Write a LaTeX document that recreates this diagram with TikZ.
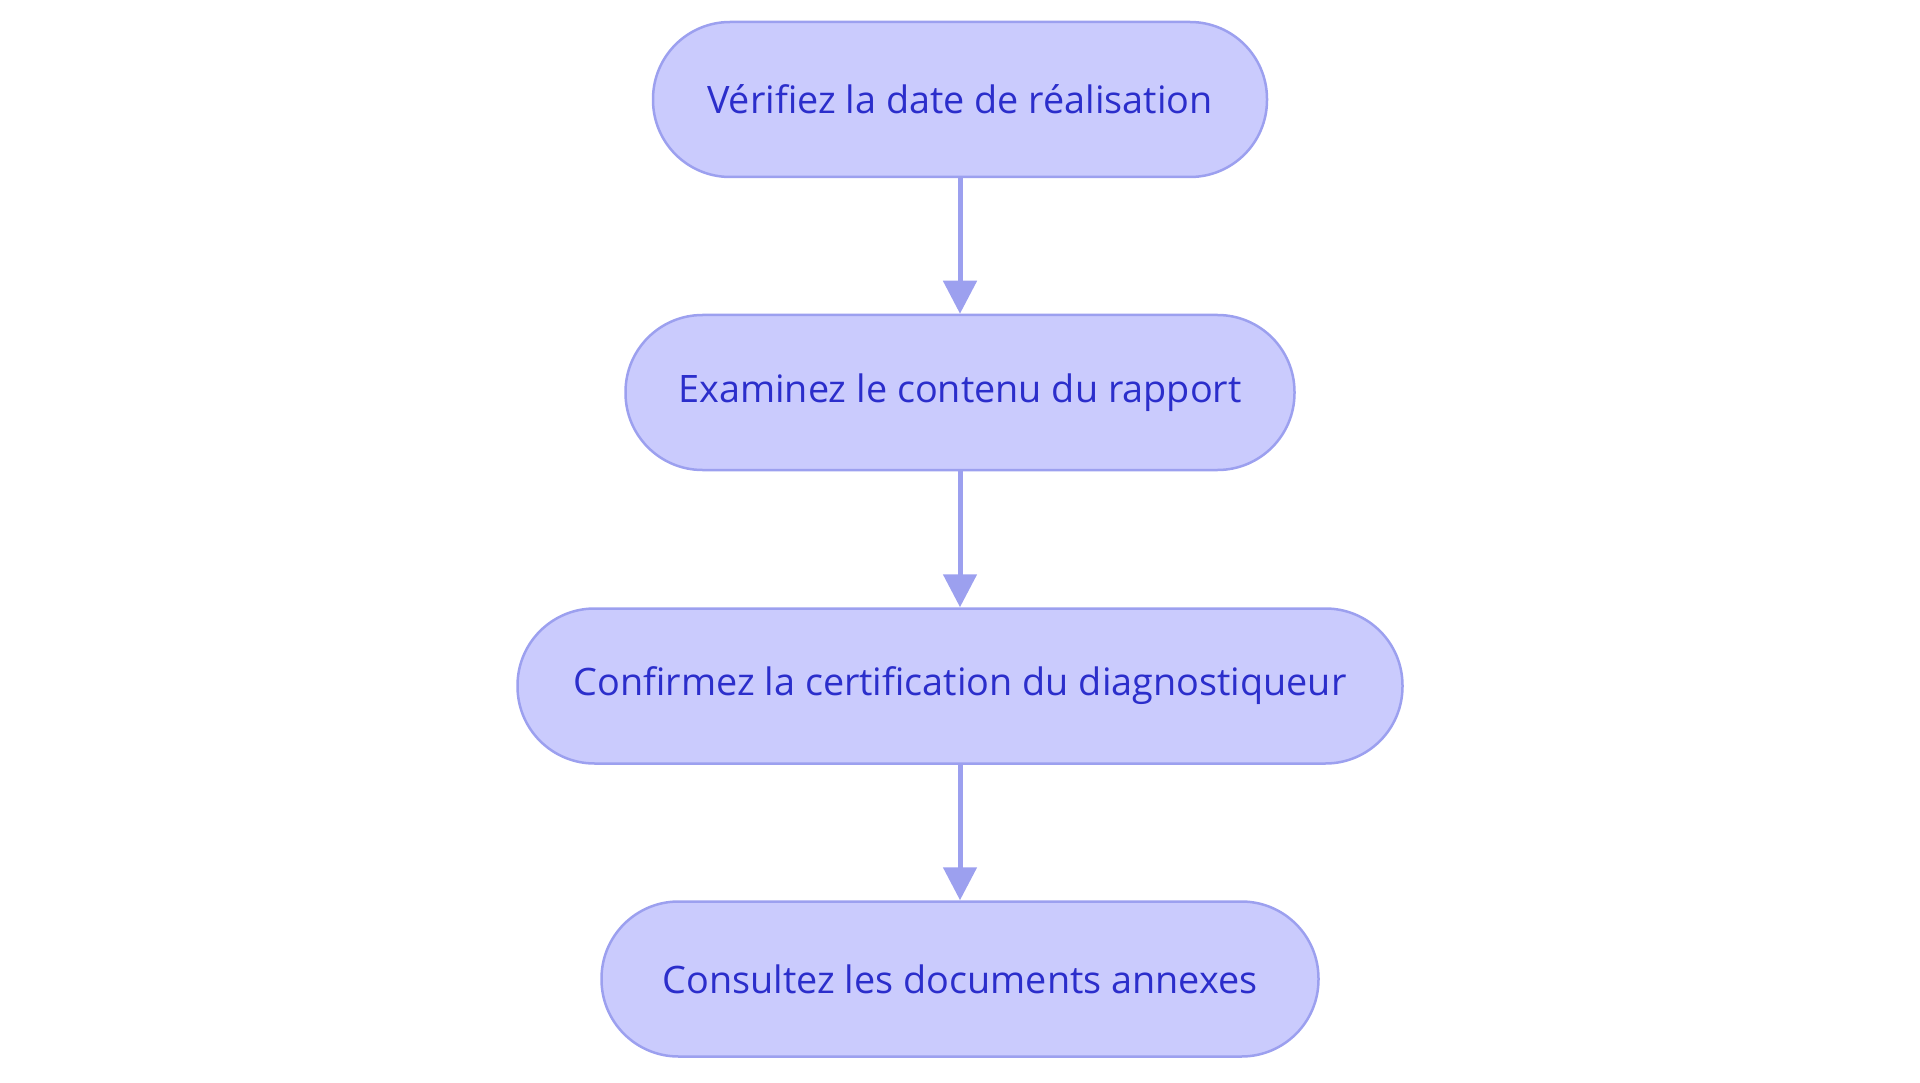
\documentclass[tikz,border=0pt]{standalone}
\usepackage{fontspec}
\setmainfont{Open Sans}
\usetikzlibrary{arrows.meta}
\definecolor{boxfill}{HTML}{CACBFD}
\definecolor{boxline}{HTML}{9CA0EF}
\definecolor{boxtext}{HTML}{2B2ECB}
\tikzset{
  stepbox/.style={draw=boxline, fill=boxfill, line width=2.5pt, rounded corners=77pt,
    minimum height=155pt, inner sep=0pt, text=boxtext,
    font=\fontsize{37.8}{45}\selectfont},
  flow/.style={draw=boxline, line width=5pt, -{Triangle[length=33pt,width=33pt]}}
}
\begin{document}
\begin{tikzpicture}[x=1pt,y=-1pt]
\useasboundingbox (0,0) rectangle (1920,1083);
\node[stepbox, minimum width=614pt] (a) at (960,99.5) {Vérifiez la date de réalisation};
\node[stepbox, minimum width=669pt] (b) at (960,392.5) {Examinez le contenu du rapport};
\node[stepbox, minimum width=885pt] (c) at (960,686) {Confirmez la certification du diagnostiqueur};
\node[stepbox, minimum width=717pt] (d) at (960,979) {Consultez les documents annexes};
\draw[flow] (a) -- (b);
\draw[flow] (b) -- (c);
\draw[flow] (c) -- (d);
\end{tikzpicture}
\end{document}
